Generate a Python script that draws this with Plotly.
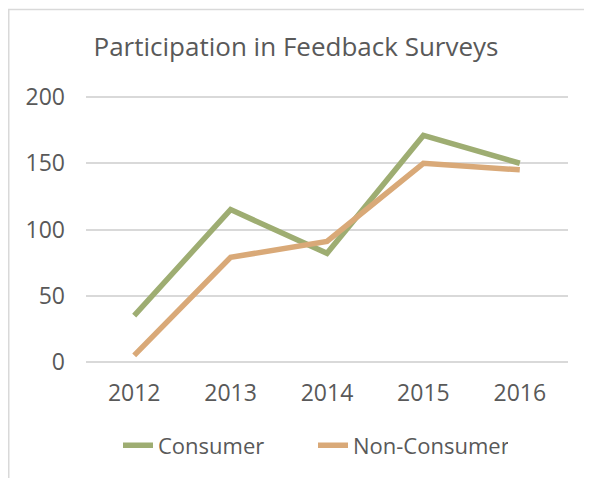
import plotly.graph_objects as go

years = ["2012", "2013", "2014", "2015", "2016"]
consumer = [35, 115, 82, 171, 150]
non_consumer = [5, 79, 91, 150, 145]
y_ticks = [0, 50, 100, 150, 200]

FONT = "Open Sans"
TXT = "#595959"

fig = go.Figure()
fig.add_trace(go.Scatter(x=years, y=consumer, name="Consumer", mode="lines",
                         line=dict(color="#9EAD72", width=5.5)))
fig.add_trace(go.Scatter(x=years, y=non_consumer, name="Non-Consumer", mode="lines",
                         line=dict(color="#D9A978", width=5.5)))

# page body has an 8px default margin; compensate
OFF = 8
W, H = 592 - OFF, 478 - OFF
L, R = 86 - OFF, 24
T, B = 93 - OFF, 478 - 368
pw, ph = W - L - R, H - T - B

fig.update_layout(
    width=W, height=H,
    margin=dict(l=L, r=R, t=T, b=B),
    paper_bgcolor="white", plot_bgcolor="white",
    font=dict(family=FONT, color=TXT, size=22),
    title=dict(text="Participation in Feedback Surveys", x=(296 - 86) / pw,
               xanchor="center", xref="paper",
               y=1 - (47 - OFF) / H, yanchor="middle",
               font=dict(size=26, color=TXT, family=FONT)),
    showlegend=True,
    legend=dict(orientation="h", x=(118 - 86) / pw, xanchor="left",
                y=(368 - 448) / ph, yanchor="middle",
                font=dict(size=22, color=TXT), entrywidth=150,
                bgcolor="rgba(0,0,0,0)"),
    xaxis=dict(type="category", range=[-0.5, 4.5], showgrid=False, zeroline=False,
               showline=False, ticks="", ticklabelstandoff=11,
               tickfont=dict(size=23, color=TXT)),
    yaxis=dict(range=[-3, 203], tickvals=y_ticks, showgrid=True, gridcolor="#D9D9D9",
               gridwidth=1.5, zeroline=False, showline=False, ticks="",
               ticklabelstandoff=20, tickfont=dict(size=23, color=TXT)),
    shapes=[dict(type="rect", xref="paper", yref="paper",
                 x0=(0.75 - L) / pw, x1=1.5, y0=-2, y1=1 + (T - 1) / ph,
                 line=dict(color="#D9D9D9", width=1.5), layer="below")],
)

fig.write_html("out.html")
